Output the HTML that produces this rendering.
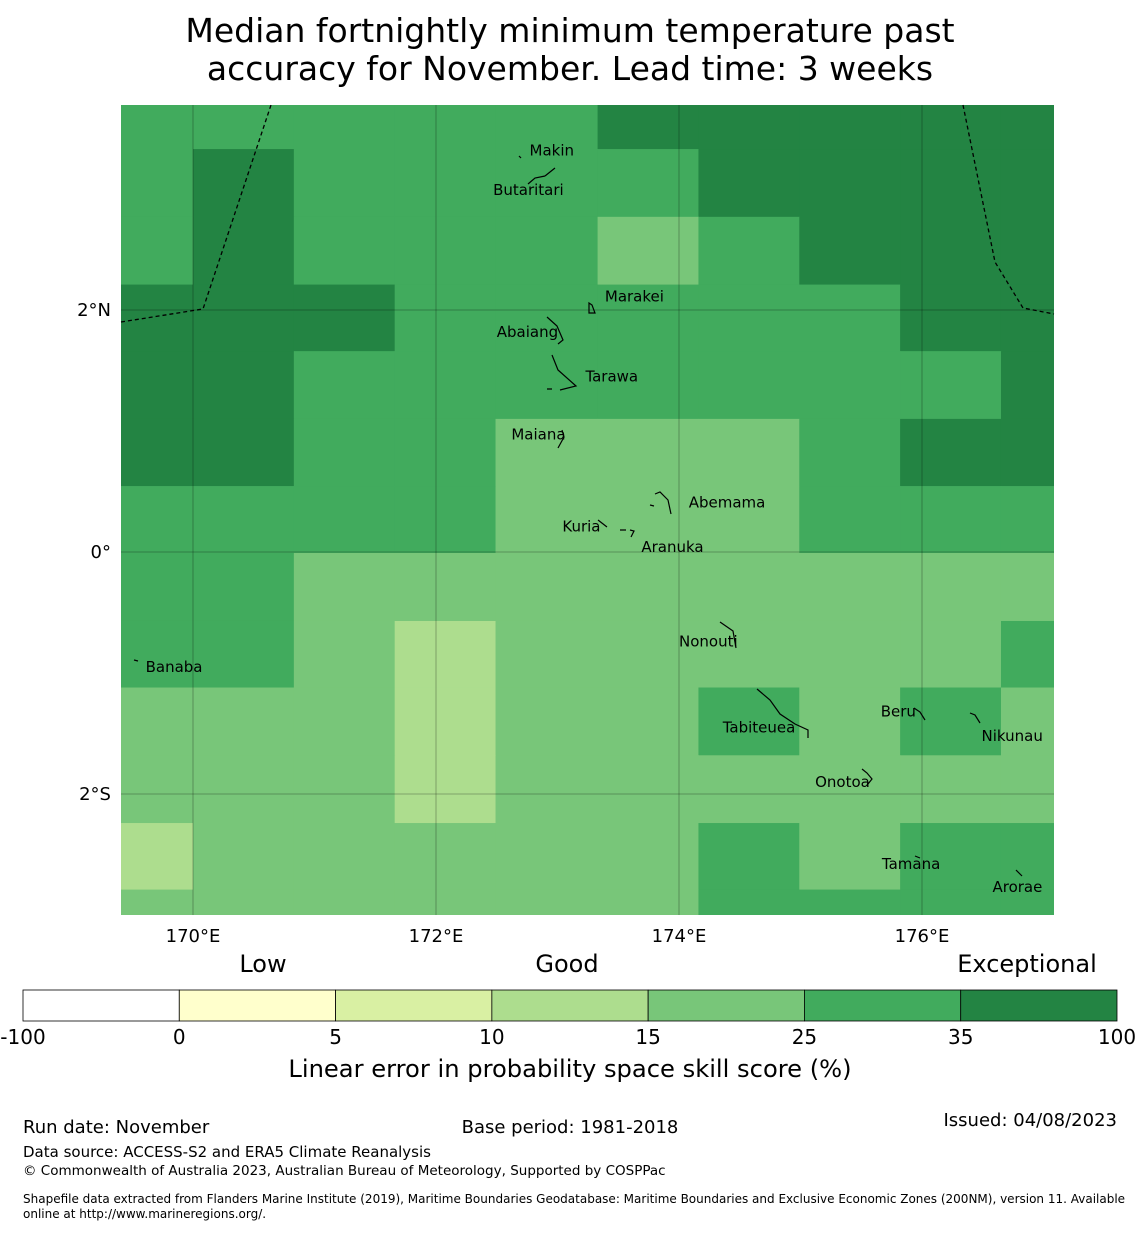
<!DOCTYPE html>
<html><head><meta charset="utf-8"><style>
body{margin:0;background:#fff;font-family:"Liberation Sans","DejaVu Sans",sans-serif;}
</style></head><body>
<svg width="1140" height="1230" viewBox="0 0 1140 1230" xmlns="http://www.w3.org/2000/svg" font-family="DejaVu Sans, Liberation Sans, sans-serif">
<text x="570" y="42" font-size="33" text-anchor="middle">Median fortnightly minimum temperature past</text>
<text x="570" y="80" font-size="33" text-anchor="middle">accuracy for November. Lead time: 3 weeks</text>
<g id="map"></g>
<g id="cbar"></g>
<text x="263" y="972" font-size="24" text-anchor="middle">Low</text>
<text x="567" y="972" font-size="24" text-anchor="middle">Good</text>
<text x="1027" y="972" font-size="24" text-anchor="middle">Exceptional</text>
<text x="570" y="1077" font-size="24.2" text-anchor="middle">Linear error in probability space skill score (%)</text>
<text x="23" y="1133" font-size="18">Run date: November</text>
<text x="570" y="1133" font-size="18" text-anchor="middle">Base period: 1981-2018</text>
<text x="1117" y="1126" font-size="18" text-anchor="end">Issued: 04/08/2023</text>
<text x="23" y="1157" font-size="15">Data source: ACCESS-S2 and ERA5 Climate Reanalysis</text>
<text x="23" y="1175" font-size="13.5">© Commonwealth of Australia 2023, Australian Bureau of Meteorology, Supported by COSPPac</text>
<text x="23" y="1203" font-size="12">Shapefile data extracted from Flanders Marine Institute (2019), Maritime Boundaries Geodatabase: Maritime Boundaries and Exclusive Economic Zones (200NM), version 11. Available</text>
<text x="23" y="1218" font-size="12">online at http://www.marineregions.org/.</text>
</svg>
<script>
const NS="http://www.w3.org/2000/svg";
const rowLats=[3.7,3.33,2.77,2.21,1.66,1.10,0.545,-0.008,-0.57,-1.12,-1.68,-2.24,-2.79,-3.05];
const colLons=[169.4,170.0,170.83,171.66,172.49,173.33,174.16,174.99,175.82,176.65,177.1];
const skill=[
[30,30,30,30,30,40,40,40,40,40],
[30,40,30,30,30,30,40,40,40,40],
[30,40,30,30,30,20,30,40,40,40],
[40,40,40,30,30,30,30,30,40,40],
[40,40,30,30,30,30,30,30,30,40],
[40,40,30,30,20,20,20,30,40,40],
[30,30,30,30,20,20,20,30,30,30],
[30,30,20,20,20,20,20,20,20,20],
[30,30,20,12,20,20,20,20,20,30],
[20,20,20,12,20,20,30,20,30,20],
[20,20,20,12,20,20,20,20,20,20],
[12,20,20,20,20,20,30,20,30,30],
[20,20,20,20,20,20,30,30,30,30]];
const cbBounds=[-100,0,5,10,15,25,35,100];
const cbLabels=["-100","0","5","10","15","25","35","100"];
const cbColors=["#ffffff","#ffffcc","#d9f0a3","#addd8e","#78c679","#41ab5d","#238443"];
const lonTicks=[170,172,174,176];
const latTicks=[2,0,-2];
const islands=[["Makin",172.77,3.32],["Butaritari",172.47,2.99],["Marakei",173.39,2.11],["Abaiang",172.50,1.82],["Tarawa",173.23,1.45],["Maiana",172.62,0.97],["Abemama",174.08,0.41],["Kuria",173.04,0.21],["Aranuka",173.69,0.04],["Nonouti",174.0,-0.74],["Banaba",169.61,-0.95],["Tabiteuea",174.36,-1.45],["Beru",175.66,-1.32],["Nikunau",176.49,-1.52],["Onotoa",175.12,-1.90],["Tamana",175.67,-2.58],["Arorae",176.58,-2.77]];

const X=lon=>193+(lon-170)*121.5;
const Y=lat=>552-lat*121;
const colorOf=v=>{for(let i=cbColors.length-1;i>=0;i--)if(v>=cbBounds[i])return cbColors[i];return cbColors[0];};
const map=document.getElementById('map');
const x0=121,x1=1054,y0=105,y1=915;
for(let r=0;r<skill.length;r++)for(let c=0;c<skill[r].length;c++){
  const xa=Math.max(x0,X(colLons[c])),xb=Math.min(x1,X(colLons[c+1]));
  const ya=Math.max(y0,Y(rowLats[r])),yb=Math.min(y1,Y(rowLats[r+1]));
  const el=document.createElementNS(NS,'rect');
  el.setAttribute('x',xa);el.setAttribute('y',ya);el.setAttribute('width',Math.min(x1,xb+0.5)-xa);el.setAttribute('height',Math.min(y1,yb+0.5)-ya);
  el.setAttribute('fill',colorOf(skill[r][c]));
  
  
  map.appendChild(el);
}
function line(x1_,y1_,x2_,y2_,stroke,w,dash){const l=document.createElementNS(NS,'line');l.setAttribute('x1',x1_);l.setAttribute('y1',y1_);l.setAttribute('x2',x2_);l.setAttribute('y2',y2_);l.setAttribute('stroke',stroke);l.setAttribute('stroke-width',w);if(dash)l.setAttribute('stroke-dasharray',dash);map.appendChild(l);return l;}
function text(x,y,s,size,anchor){const t=document.createElementNS(NS,'text');t.setAttribute('x',x);t.setAttribute('y',y);t.setAttribute('font-size',size);if(anchor)t.setAttribute('text-anchor',anchor);t.textContent=s;map.appendChild(t);return t;}
lonTicks.forEach(lon=>{const l=line(X(lon),y0,X(lon),y1,'rgba(0,0,0,0.35)',0.8);


const t=text(X(lon),942,lon+'°E',18,'middle');

});
latTicks.forEach(lat=>{const l=line(x0,Y(lat),x1,Y(lat),'rgba(0,0,0,0.35)',0.8);


const t=text(111,Y(lat)+6,lat>0?lat+'°N':lat<0?(-lat)+'°S':'0°',18,'end');

});
[[[121,322],[203,309],[271,105]],[[963,105],[995,262],[1023,308],[1054,314]]].forEach(pts=>{
const p=document.createElementNS(NS,'polyline');p.setAttribute('points',pts.map(a=>a.join(',')).join(' '));
p.setAttribute('fill','none');p.setAttribute('stroke','#000');p.setAttribute('stroke-width','1.3');p.setAttribute('stroke-dasharray','4,3');


map.appendChild(p);});
const shapes=["M519,156 L521,158","M545,176 L555,168 M528,184 L535,178 L545,176","M589,303 L592,305 L595,313 L589,313 Z","M547,317 L557,326 L563,340 L558,344","M552,355 L558,370 L576,386 L560,390 M547,389 L552,389","M558,448 L564,437 L562,430","M655,494 L660,492 L668,500 L671,514 M650,505 L654,506","M598,520 L607,527 M620,530 L626,530 M630,530 L634,531 L631,537","M720,622 L733,631 L736,648","M134,660 L138,661","M757,689 L770,700 L780,714 L795,724 L808,730 L808,738","M914,708 L920,712 L925,720","M970,713 L975,715 L980,723","M862,769 L867,773 L872,779 L868,784","M915,856 L920,858","M1016,870 L1022,876"];
shapes.forEach(d=>{const p=document.createElementNS(NS,'path');p.setAttribute('d',d);p.setAttribute('fill','none');p.setAttribute('stroke','#000');p.setAttribute('stroke-width','1.2');


map.appendChild(p);});
islands.forEach(([n,lon,lat])=>{const t=text(X(lon),Y(lat)+5,n,15);

});
const cb=document.getElementById('cbar');const cx0=23,cx1=1117,seg=(cx1-cx0)/cbColors.length;
cbColors.forEach((c,i)=>{const r=document.createElementNS(NS,'rect');r.setAttribute('x',cx0+i*seg);r.setAttribute('y',990);r.setAttribute('width',seg);r.setAttribute('height',31);r.setAttribute('fill',c);r.setAttribute('stroke','#000');r.setAttribute('stroke-width','0.8');


cb.appendChild(r);});
cbLabels.forEach((s,i)=>{const t=document.createElementNS(NS,'text');t.setAttribute('x',cx0+i*seg);t.setAttribute('y',1044);t.setAttribute('font-size',20);t.setAttribute('text-anchor','middle');t.textContent=s;


cb.appendChild(t);});
</script>
</body></html>
